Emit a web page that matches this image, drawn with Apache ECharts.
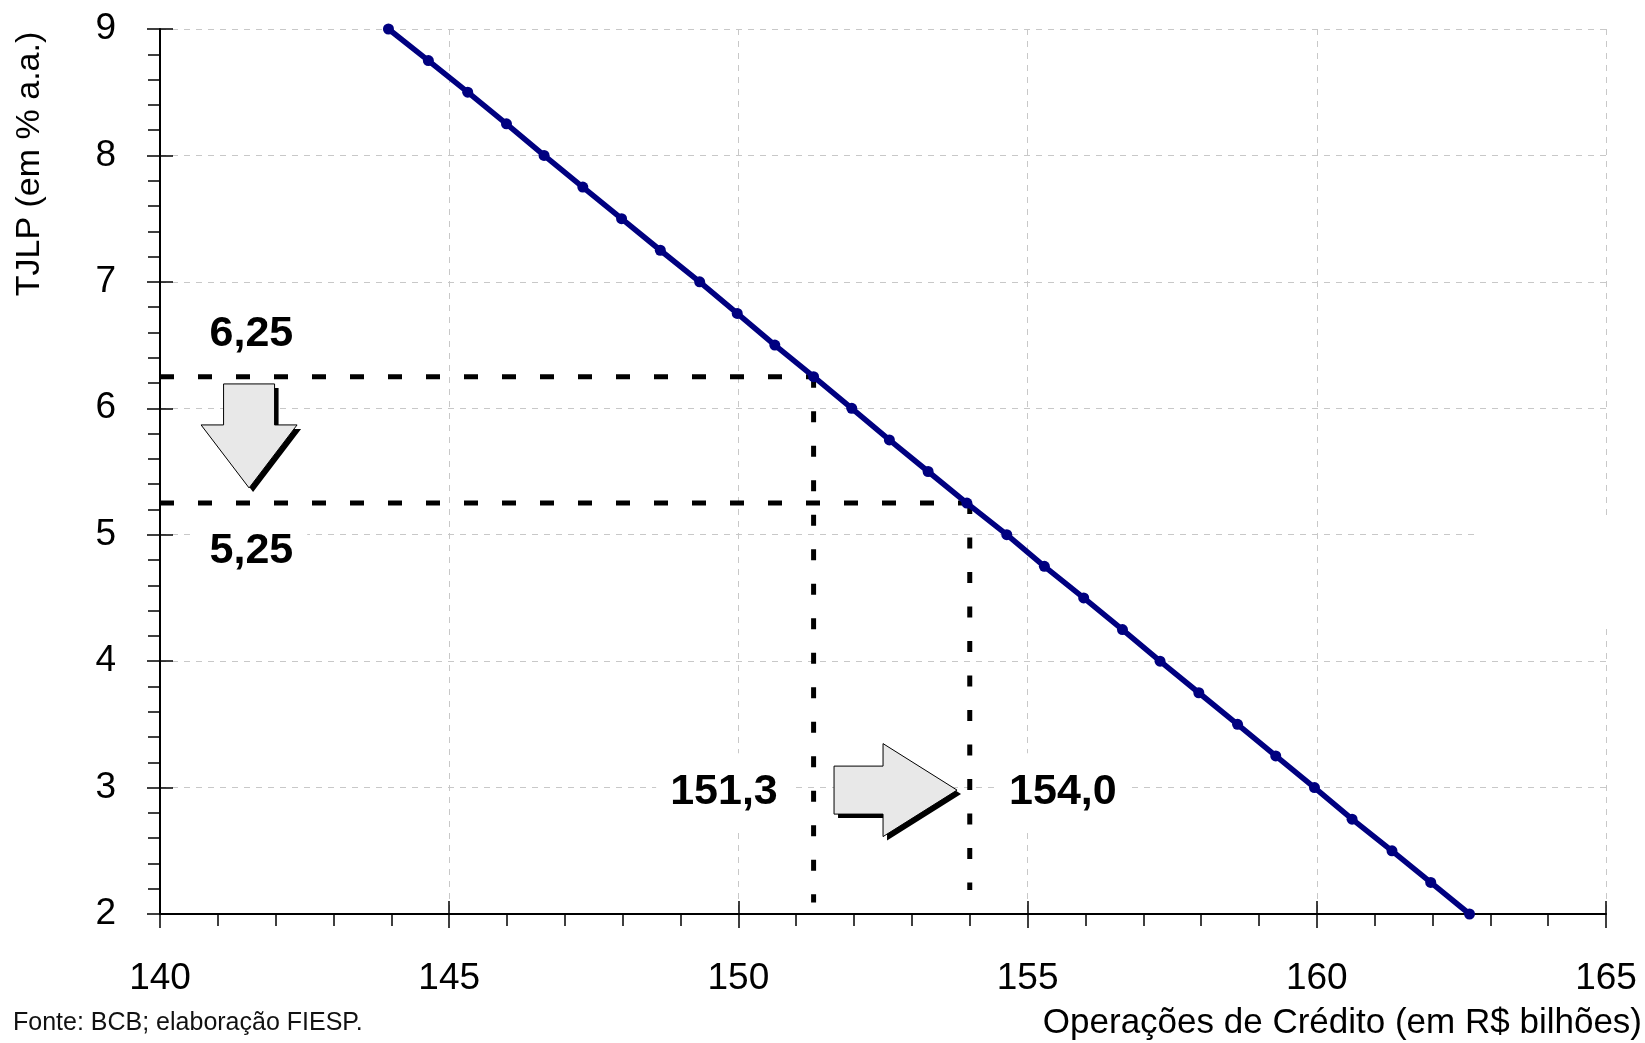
<!DOCTYPE html>
<html lang="pt">
<head>
  <meta charset="UTF-8">
  <title>TJLP x Operações de Crédito</title>
  <style>
    html, body { margin: 0; padding: 0; background: #fff; }
    #chart { width: 1645px; height: 1043px; }
  </style>
</head>
<body>
<div id="chart"></div>
<script src="https://cdn.jsdelivr.net/npm/echarts@6/dist/echarts.min.js"></script>
<script>
  // curva: TJLP (y) contra operações de crédito (x), um ponto a cada 0,25 p.p.
  var tjlp = [9, 8.75, 8.5, 8.25, 8, 7.75, 7.5, 7.25, 7, 6.75, 6.5, 6.25, 6, 5.75, 5.5,
              5.25, 5, 4.75, 4.5, 4.25, 4, 3.75, 3.5, 3.25, 3, 2.75, 2.5, 2.25, 2];
  var credito = [143.95, 144.64, 145.32, 145.99, 146.64, 147.31, 147.98, 148.65, 149.33,
                 149.98, 150.63, 151.30, 151.96, 152.61, 153.28, 153.95, 154.64, 155.29,
                 155.97, 156.64, 157.29, 157.96, 158.63, 159.29, 159.96, 160.61, 161.30,
                 161.97, 162.64];

  // linhas tracejadas de referência
  var refTaxa = [6.25, 5.25];
  var refCredito = [151.3, 154.0];
  var refFimVertical = [2.09, 2.19];

  // rótulos das referências
  var rotuloTexto = ['6,25', '5,25', '151,3', '154,0'];
  var rotuloX = [141.58, 141.58, 149.75, 155.61];
  var rotuloY = [6.59, 4.87, 2.96, 2.96];

  // setas (ponta da seta em coordenadas do gráfico)
  var setaX = [141.54, 153.78];
  var setaY = [5.37, 2.98];
  var setaDirecao = ['down', 'right'];

  var xTicks = { min: 140, max: 165, interval: 5 };
  var yTicks = { min: 2, max: 9, interval: 1 };

  var font = 'Liberation Sans, Arial, sans-serif';
  var myChart = echarts.init(document.getElementById('chart'));

  var linePoints = credito.map(function (c, i) { return [c, tjlp[i]]; });

  var refSeries = [];
  refTaxa.forEach(function (taxa, i) {
    refSeries.push({
      type: 'line', symbol: 'none', silent: true, z: 3,
      data: [[xTicks.min, taxa], [refCredito[i], taxa]],
      lineStyle: { color: '#000', width: 5, type: [14, 24] }
    });
    refSeries.push({
      type: 'line', symbol: 'none', silent: true, z: 3,
      data: [[refCredito[i], taxa], [refCredito[i], refFimVertical[i]]],
      lineStyle: { color: '#000', width: 5, type: [11, 23.5] }
    });
  });

  // formas das setas em pixels, relativas à ponta
  var arrowShapes = {
    down: [[-25.5, -104], [25.5, -104], [25.5, -63], [48, -63], [0, 0], [-48, -63], [-25.5, -63]],
    right: [[-123, -24], [-74, -24], [-74, -46.5], [0, 0], [-74, 46.5], [-74, 24], [-123, 24]]
  };

  function renderArrow(params, api) {
    var tip = api.coord([api.value(0), api.value(1)]);
    var shape = arrowShapes[setaDirecao[params.dataIndex]];
    var pts = shape.map(function (p) { return [tip[0] + p[0], tip[1] + p[1]]; });
    var shadow = pts.map(function (p) { return [p[0] + 4, p[1] + 4]; });
    return {
      type: 'group',
      children: [
        { type: 'polygon', shape: { points: shadow }, style: { fill: '#000' } },
        { type: 'polygon', shape: { points: pts }, style: { fill: '#e8e8e8', stroke: '#000', lineWidth: 1 } }
      ]
    };
  }

  var axisBase = {
    type: 'value',
    axisLine: { show: true, onZero: false, lineStyle: { color: '#000', width: 2 } },
    axisLabel: { color: '#000', fontFamily: font, fontSize: 37 },
    splitLine: { show: true, lineStyle: { color: '#c8c8c8', width: 1, type: [6, 6] } },
    minorTick: { show: true, splitNumber: 5, length: 12, lineStyle: { color: '#000', width: 1.5 } },
    minorSplitLine: { show: false }
  };

  // segundo eixo só para a parte interna dos ticks principais
  var innerTicks = {
    type: 'value',
    axisLine: { show: false },
    axisLabel: { show: false },
    splitLine: { show: false },
    axisTick: { show: true, inside: true, length: 13, lineStyle: { color: '#000', width: 1.5 } }
  };

  var option = {
    backgroundColor: '#fff',
    animation: false,
    grid: { left: 160, right: 39, top: 29, bottom: 129 },
    xAxis: [
      Object.assign({}, axisBase, xTicks, {
        position: 'bottom',
        axisTick: { show: true, length: 14, lineStyle: { color: '#000', width: 1.5 } },
        axisLabel: Object.assign({}, axisBase.axisLabel, { margin: 46 })
      }),
      Object.assign({}, innerTicks, xTicks, { position: 'bottom' })
    ],
    yAxis: [
      Object.assign({}, axisBase, yTicks, {
        position: 'left',
        axisTick: { show: true, length: 13, lineStyle: { color: '#000', width: 1.5 } },
        axisLabel: Object.assign({}, axisBase.axisLabel, { margin: 44 })
      }),
      Object.assign({}, innerTicks, yTicks, { position: 'left' })
    ],
    graphic: [
      // área em branco à direita (legenda vazia no original)
      { type: 'rect', z: 1, shape: { x: 1480, y: 517, width: 160, height: 110 }, style: { fill: '#fff' } },
      {
        type: 'text', x: 30, y: 164, rotation: Math.PI / 2,
        style: { text: 'TJLP (em % a.a.)', fontFamily: font, fontSize: 34, fill: '#000', align: 'center', verticalAlign: 'middle' }
      },
      {
        type: 'text', x: 1642, y: 1023,
        style: { text: 'Operações de Crédito (em R$ bilhões)', fontFamily: font, fontSize: 35, fill: '#000', align: 'right', verticalAlign: 'middle' }
      },
      {
        type: 'text', x: 13, y: 1023,
        style: { text: 'Fonte: BCB; elaboração FIESP.', fontFamily: font, fontSize: 25, fill: '#111', align: 'left', verticalAlign: 'middle' }
      }
    ],
    series: refSeries.concat([
      {
        type: 'custom', z: 4, silent: true,
        renderItem: renderArrow,
        data: setaX.map(function (x, i) { return [x, setaY[i]]; })
      },
      {
        type: 'scatter', z: 4, silent: true, symbolSize: 0,
        itemStyle: { opacity: 1 },
        data: rotuloX.map(function (x, i) { return [x, rotuloY[i], rotuloTexto[i]]; }),
        label: {
          show: true, position: 'inside',
          formatter: function (p) { return p.data[2]; },
          fontFamily: font, fontSize: 43, fontWeight: 'bold', color: '#000',
          backgroundColor: '#fff', padding: [26, 14, 10, 14]
        }
      },
      {
        type: 'line', z: 5, silent: true,
        data: linePoints,
        symbol: 'circle', symbolSize: 11, showSymbol: true,
        itemStyle: { color: '#000080' },
        lineStyle: { color: '#000080', width: 5.5 }
      }
    ])
  };

  myChart.setOption(option);
</script>
</body>
</html>
